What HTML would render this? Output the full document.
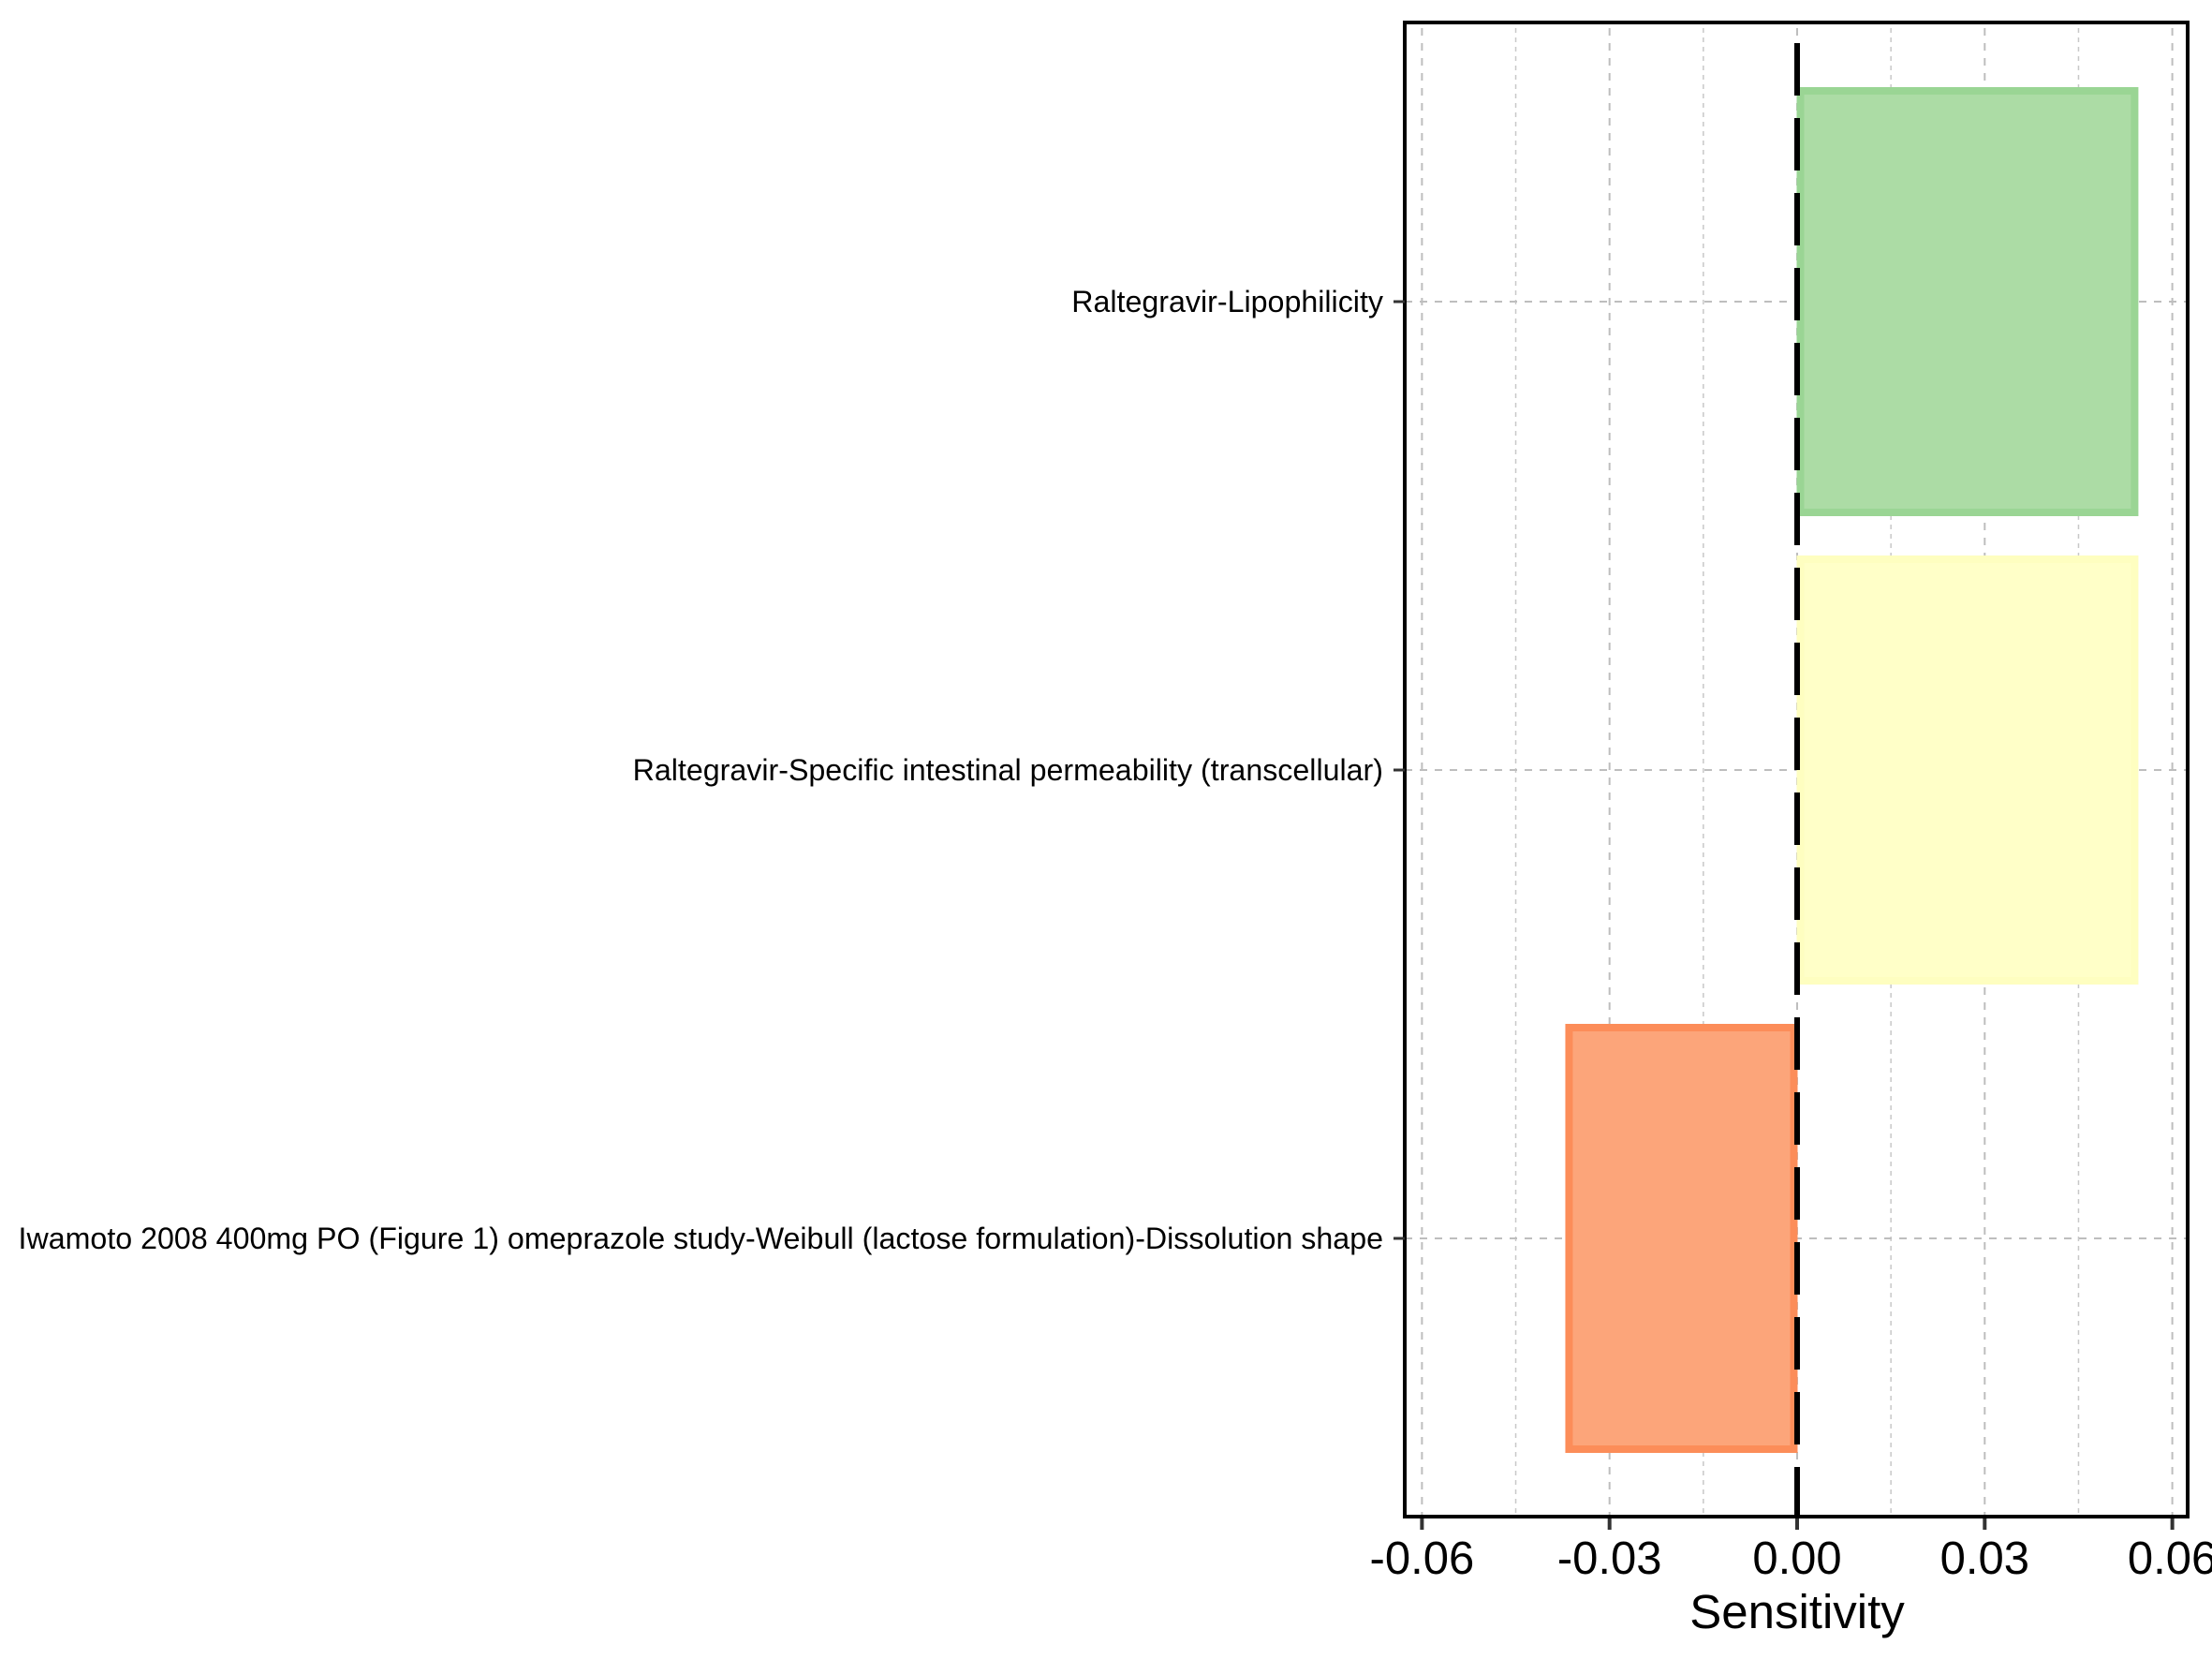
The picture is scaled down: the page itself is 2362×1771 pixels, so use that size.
<!DOCTYPE html>
<html><head><meta charset="utf-8"><style>html,body{margin:0;padding:0;background:#fff}svg{display:block}</style></head>
<body>
<svg id="chart" width="2362" height="1771" xmlns="http://www.w3.org/2000/svg" font-family="Liberation Sans, Arial, sans-serif">
<g id="grid"></g>
<g id="bars"></g>
<g id="axes"></g>
</svg>
<script>
const categories = ["Raltegravir-Lipophilicity","Raltegravir-Specific intestinal permeability (transcellular)","Iwamoto 2008 400mg PO (Figure 1) omeprazole study-Weibull (lactose formulation)-Dissolution shape"];
const values = [0.0545, 0.0545, -0.037];
const fills = ["#acdca5","#ffffc8","#fca57a"];
const strokes = ["#9ad594","#fefec0","#fc8d59"];
const xTicks = [-0.06,-0.03,0.00,0.03,0.06];
const xTickLabels = ["-0.06","-0.03","0.00","0.03","0.06"];
const xMinor = [-0.045,-0.015,0.015,0.045];

const NS="http://www.w3.org/2000/svg";
const L=1500,R=2336,T=24,B=1619,X0=1919,PX=6677;
const x=v=>X0+v*PX;
const yc=i=>T+298+i*500;
function mk(tag,attrs,parent){const e=document.createElementNS(NS,tag);for(const k in attrs)e.setAttribute(k,attrs[k]);parent.appendChild(e);return e;}
const grid=document.getElementById('grid'),bars=document.getElementById('bars'),axes=document.getElementById('axes');

xMinor.forEach(v=>{const l=mk('line',{x1:x(v),x2:x(v),y1:T+6,y2:B,stroke:'#c8c8c8','stroke-width':1.5,'stroke-dasharray':'5 5'},grid);

});
xTicks.forEach(v=>{const l=mk('line',{x1:x(v),x2:x(v),y1:T+6,y2:B,stroke:'#bebebe','stroke-width':2,'stroke-dasharray':'8 8'},grid);

});
categories.forEach((c,i)=>{const l=mk('line',{x1:L,x2:R,y1:yc(i),y2:yc(i),stroke:'#bebebe','stroke-width':2,'stroke-dasharray':'8 8'},grid);

});

values.forEach((v,i)=>{
  const h=457, x1=Math.min(x(0),x(v)), w=Math.abs(x(v)-x(0));
  const r=mk('rect',{x:x1+3.5,y:yc(i)-h/2+3.5,width:Math.max(w-7,0),height:h-7,fill:fills[i],stroke:strokes[i],'stroke-width':8},bars);
  
  
});

const zl=mk('line',{x1:x(0),x2:x(0),y1:46,y2:B,stroke:'#000','stroke-width':6,'stroke-dasharray':'56 24'},axes);



const fr=mk('rect',{x:L,y:T,width:R-L,height:B-T,fill:'none',stroke:'#000','stroke-width':4},axes);



xTicks.forEach((v,i)=>{
  const t=mk('line',{x1:x(v),x2:x(v),y1:B+2,y2:B+14,stroke:'#333','stroke-width':4},axes);
  
  
  const tx=mk('text',{x:x(v),y:1680,'text-anchor':'middle','font-size':49,fill:'#000'},axes);
  tx.textContent=xTickLabels[i];
  
  
});
categories.forEach((c,i)=>{
  const t=mk('line',{x1:L-12,x2:L,y1:yc(i),y2:yc(i),stroke:'#333','stroke-width':3},axes);
  
  
  const tx=mk('text',{x:1477,y:yc(i)+11,'text-anchor':'end','font-size':32.2,fill:'#000'},axes);
  tx.textContent=c;
  
  
});
const xt=mk('text',{x:X0,y:1738,'text-anchor':'middle','font-size':51,fill:'#000'},axes);
xt.textContent='Sensitivity';


</script>
</body></html>
